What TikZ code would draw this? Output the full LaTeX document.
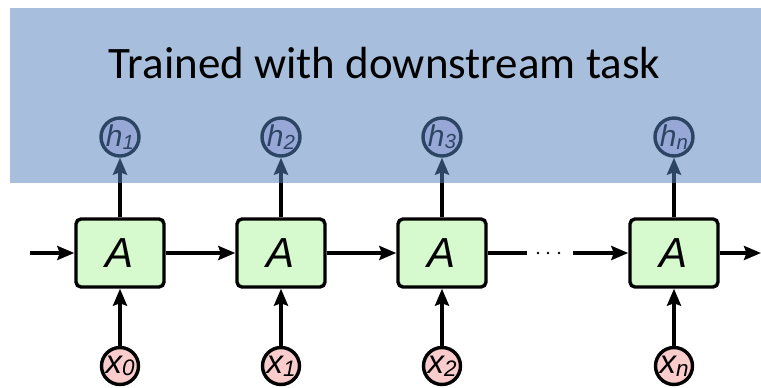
\documentclass[tikz,border=0pt]{standalone}
\usepackage{fontspec}
\setmainfont{Liberation Sans}
\newfontfamily\titlefont{Carlito}
\newfontfamily\labelfont{Liberation Sans}
\usetikzlibrary{arrows.meta}

\definecolor{cellgreen}{RGB}{214,250,205}
\definecolor{inpink}{RGB}{250,204,204}
\definecolor{outlav}{RGB}{222,208,242}
\definecolor{veil}{RGB}{86,133,190}

% index digit set a little smaller and slightly below the baseline
\newcommand{\idx}[1]{\raisebox{-0.08em}{\scalebox{0.68}{#1}}}

\tikzset{
  cell/.style={draw=black, line width=3.4pt, fill=cellgreen, rounded corners=5pt,
    minimum width=88pt, minimum height=68pt, inner sep=0pt,
    font=\labelfont\itshape\fontsize{42}{42}\selectfont},
  innode/.style={circle, draw=black, line width=3.4pt, fill=inpink,
    minimum size=37pt, inner sep=0pt, font=\labelfont\itshape\fontsize{33}{33}\selectfont},
  outnode/.style={circle, draw=black, line width=3.4pt, fill=outlav,
    minimum size=38pt, inner sep=0pt, font=\labelfont\itshape\fontsize{30}{30}\selectfont},
  flow/.style={line width=3.4pt, -{Stealth[length=17pt,width=14pt,inset=2.5pt]}},
  plain/.style={line width=3.4pt},
  dot/.style={circle, fill=black, inner sep=0pt, minimum size=2.8pt},
}

\begin{document}
\begin{tikzpicture}[x=1pt,y=-1pt]
  \useasboundingbox (0,0) rectangle (761,388);

  % recurrent cells
  \node[cell] (a1) at (120,253) {A};
  \node[cell] (a2) at (281,253) {A};
  \node[cell] (a3) at (442,253) {A};
  \node[cell] (an) at (674,253) {A};

  % inputs
  \node[innode] (x1) at (120,366) {x\idx{0}};
  \node[innode] (x2) at (281,366) {x\idx{1}};
  \node[innode] (x3) at (442,366) {x\idx{2}};
  \node[innode] (xn) at (674,366) {x\idx{n}};

  % hidden states
  \node[outnode] (h1) at (120,137) {h\idx{1}};
  \node[outnode] (h2) at (281,137) {h\idx{2}};
  \node[outnode] (h3) at (442,137) {h\idx{3}};
  \node[outnode] (hn) at (674,137) {h\idx{n}};

  \coordinate (start) at (30,253);
  \coordinate (stop) at (761,253);
  \coordinate (gapl) at (527,253);
  \coordinate (gapr) at (573,253);
  \node[dot] (d1) at (538,253) {};
  \node[dot] (d2) at (548,253) {};
  \node[dot] (d3) at (559,253) {};

  % horizontal recurrence
  \draw[flow] (start) -- (a1);
  \draw[flow] (a1) -- (a2);
  \draw[flow] (a2) -- (a3);
  \draw[plain] (a3.east) -- (gapl);
  \draw[flow] (gapr) -- (an);
  \draw[flow] (an.east) -- (stop);

  % inputs and outputs
  \foreach \i in {1,2,3,n} {
    \draw[flow] (x\i) -- (a\i);
    \draw[flow] (a\i) -- (h\i);
  }

  % translucent band over the outputs
  \fill[veil, opacity=0.52] (10,8) rectangle (761,183);

  \node[anchor=base, font=\titlefont\fontsize{45}{45}\selectfont] (title) at (384.5,78)
    {Trained with downstream task};
\end{tikzpicture}
\end{document}
